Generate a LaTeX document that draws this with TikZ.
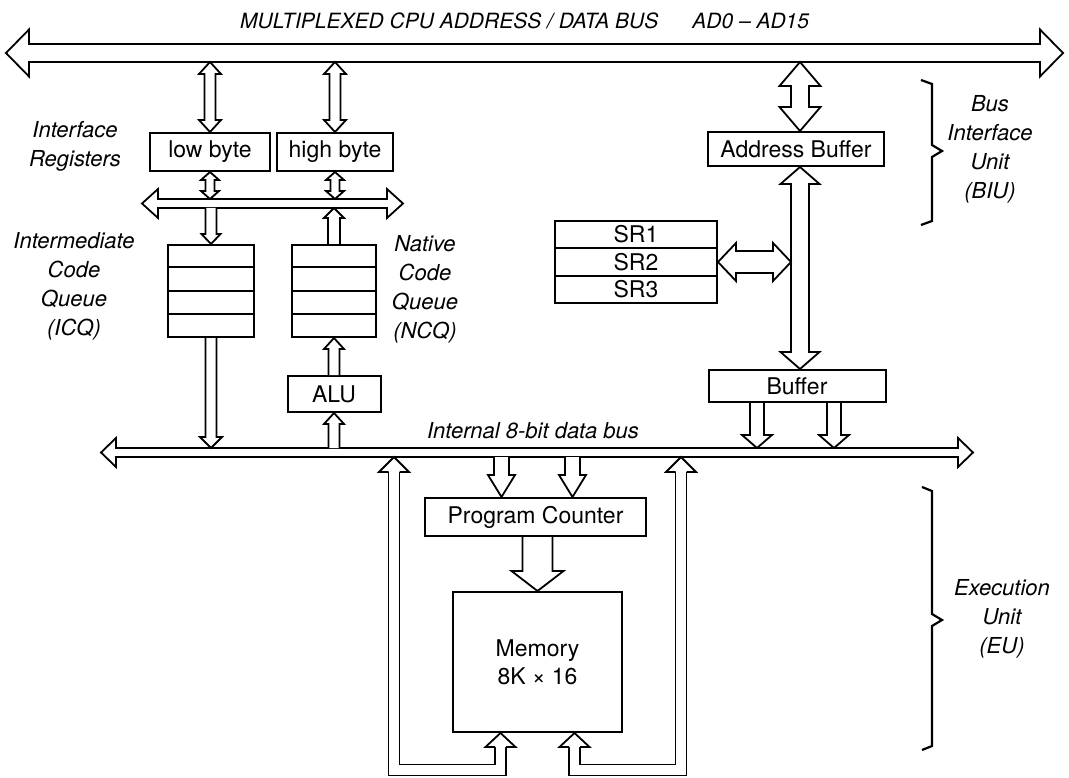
\documentclass[tikz,border=0pt]{standalone}
\usepackage{fontspec}
\setmainfont{TeX Gyre Heros}
\usetikzlibrary{calc}

% straight fat arrow, head at end only: {from}{to}{shaft half}{head half}{head length}
\newcommand{\fatone}[5]{%
  \path #1 coordinate (faS); \path #2 coordinate (faE);
  \pgfpointdiff{\pgfpointanchor{faS}{center}}{\pgfpointanchor{faE}{center}}%
  \pgfgetlastxy{\fadx}{\fady}%
  \pgfmathsetmacro\faang{atan2(\fady,\fadx)}%
  \pgfmathsetmacro\falen{veclen(\fadx,\fady)}%
  \begin{scope}[shift={(faS)}, rotate=\faang, x=1pt, y=1pt]
    \filldraw[fat] (0,#3) -- ({\falen-#5},#3) -- ({\falen-#5},#4) -- (\falen,0)
      -- ({\falen-#5},-#4) -- ({\falen-#5},-#3) -- (0,-#3);
  \end{scope}}
% straight fat arrow, heads at both ends
\newcommand{\fattwo}[5]{%
  \path #1 coordinate (faS); \path #2 coordinate (faE);
  \pgfpointdiff{\pgfpointanchor{faS}{center}}{\pgfpointanchor{faE}{center}}%
  \pgfgetlastxy{\fadx}{\fady}%
  \pgfmathsetmacro\faang{atan2(\fady,\fadx)}%
  \pgfmathsetmacro\falen{veclen(\fadx,\fady)}%
  \begin{scope}[shift={(faS)}, rotate=\faang, x=1pt, y=1pt]
    \filldraw[fat] (0,0) -- (#5,#4) -- (#5,#3) -- ({\falen-#5},#3) -- ({\falen-#5},#4)
      -- (\falen,0) -- ({\falen-#5},-#4) -- ({\falen-#5},-#3) -- (#5,-#3) -- (#5,-#4) -- cycle;
  \end{scope}}
% open head only: {tip}{angle}{shaft half}{head half}{length}
\newcommand{\fathead}[5]{%
  \begin{scope}[shift={#1}, rotate=#2, x=1pt, y=1pt]
    \filldraw[fat] (-#5,#3) -- (-#5,#4) -- (0,0) -- (-#5,-#4) -- (-#5,-#3);
  \end{scope}}

\begin{document}
\begin{tikzpicture}[x=1pt,y=-1pt,
  box/.style={draw, line width=2pt, rectangle, inner sep=0pt, font=\fontsize{23}{28}\selectfont},
  boxline/.style={line width=2pt},
  fat/.style={draw=black, fill=white, line width=1.8pt, line join=miter},
  loopsh/.style={draw=black, line width=1.8pt, double=white, double distance=9.2pt, line join=miter},
  lbl/.style={font=\fontsize{22}{29}\selectfont\itshape, align=center, inner sep=0pt},
  brc/.style={line width=2.2pt, line join=miter}]
\useasboundingbox (0,0) rectangle (1069,778);

% bus reference coordinates
\coordinate (tbL) at (6,53);   \coordinate (tbR) at (1063,53);  \coordinate (tbB) at (0,62);
\coordinate (sbL) at (142,203.5); \coordinate (sbR) at (403,203.5);
\coordinate (sbT) at (0,199);  \coordinate (sbB) at (0,208);
\coordinate (ibL) at (101,452.5); \coordinate (ibR) at (973,452.5);
\coordinate (ibT) at (0,448);  \coordinate (ibB) at (0,457);
\coordinate (abx) at (800,0);  \coordinate (abxL) at (791,0);

% title and labels
\node[lbl, anchor=west, font=\fontsize{21}{26}\selectfont\itshape] (title) at (240,21)
  {MULTIPLEXED CPU ADDRESS / DATA BUS\hspace{34pt}AD0 -- AD15};
\node[lbl] (lIR) at (75,146) {Interface\\Registers};
\node[lbl] (lICQ) at (74,286) {Intermediate\\Code\\Queue\\(ICQ)};
\node[lbl] (lNCQ) at (425,289) {Native\\Code\\Queue\\(NCQ)};
\node[lbl] (lBIU) at (990,149) {Bus\\Interface\\Unit\\(BIU)};
\node[lbl] (lEU) at (1002,619) {Execution\\Unit\\(EU)};
\node[lbl] (lIB) at (533,431) {Internal 8-bit data bus};

% boxes
\node[box, minimum width=120pt, minimum height=38pt] (low) at (210,152) {low byte};
\node[box, minimum width=116pt, minimum height=38pt] (high) at (335,152) {high byte};
\node[box, minimum width=86pt, minimum height=92pt] (icq) at (211,291) {};
\node[box, minimum width=84pt, minimum height=92pt] (ncq) at (334,291) {};
\foreach \q in {icq,ncq}
  \foreach \f in {0.25,0.5,0.75}
    \draw[boxline] ($(\q.north west)!\f!(\q.south west)$) -- ($(\q.north east)!\f!(\q.south east)$);
\node[box, minimum width=93pt, minimum height=36pt] (alu) at (334,394) {ALU};
\node[box, minimum width=176pt, minimum height=34pt] (ab) at (796,149) {Address Buffer};
\node[box, minimum width=162pt, minimum height=27.5pt] (sr1) at (636,234.5) {SR1};
\node[box, minimum width=162pt, minimum height=27.5pt] (sr2) at (636,262) {SR2};
\node[box, minimum width=162pt, minimum height=27.5pt] (sr3) at (636,289.5) {SR3};
\node[box, minimum width=177pt, minimum height=32pt] (buf) at (797,386) {Buffer};
\node[box, minimum width=221pt, minimum height=38pt] (pc) at (535.5,517) {Program Counter};
\node[box, minimum width=169pt, minimum height=140pt, align=center] (mem) at (537.5,662) {Memory\\8K × 16};

% buses
\fattwo{(tbL)}{(tbR)}{9}{23.5}{23}
\fattwo{(sbL)}{(sbR)}{4.5}{14.5}{16}
\fattwo{(ibL)}{(ibR)}{4.5}{14.5}{15}

% connectors
\fattwo{(low.north |- tbB)}{(low.north)}{5.5}{11}{12}
\fattwo{(high.north |- tbB)}{(high.north)}{5.5}{11}{12}
\fattwo{(abx |- tbB)}{(abx |- ab.north)}{9}{20.5}{24}
\fattwo{(low.south)}{(low.south |- sbT)}{4.5}{9}{8}
\fattwo{(high.south)}{(high.south |- sbT)}{4.5}{9}{8}
\fatone{(icq.north |- sbB)}{(icq.north)}{5.5}{9.5}{10}
\fatone{(ncq.north)}{(ncq.north |- sbB)}{6}{10}{10}
\fatone{(icq.south)}{(icq.south |- ibT)}{5.5}{11}{11}
\fatone{(alu.north)}{(ncq.south)}{5.5}{10}{11}
\fatone{(alu.south |- ibT)}{(alu.south)}{5.5}{10}{11}
\fattwo{(abx |- ab.south)}{(abx |- buf.north)}{9}{19.5}{17}
\fattwo{(sr2.east)}{(sr2.east -| abxL)}{11}{19}{18}

\coordinate (bufL) at ($(buf.south)+(-40,0)$);
\coordinate (bufR) at ($(buf.south)+(37,0)$);
\fatone{(bufL)}{(bufL |- ibT)}{7}{15}{13}
\fatone{(bufR)}{(bufR |- ibT)}{7}{15}{13}

\coordinate (pcL) at ($(pc.north)+(-34,0)$);
\coordinate (pcR) at ($(pc.north)+(37,0)$);
\fatone{(pcL |- ibB)}{(pcL)}{7.5}{13.5}{22}
\fatone{(pcR |- ibB)}{(pcR)}{7.5}{13.5}{22}
\fatone{(mem.north |- pc.south)}{(mem.north)}{15}{26}{20}

% feedback loops from memory to internal bus
\coordinate (mL) at ($(mem.south)+(-37,0)$);
\coordinate (mR) at ($(mem.south)+(37,0)$);
\coordinate (vL) at (394,770);
\coordinate (vR) at (681,770);
\coordinate (vLt) at (vL |- ibB);
\coordinate (vRt) at (vR |- ibB);
\draw[loopsh] ($(vLt)+(0,15)$) -- (vL) -- (mL |- vL) -- ($(mL)+(0,14)$);
\draw[loopsh] ($(vRt)+(0,15)$) -- (vR) -- (mR |- vR) -- ($(mR)+(0,14)$);
\fathead{(vLt)}{90}{5.5}{15}{15}
\fathead{(vRt)}{90}{5.5}{15}{15}
\fathead{(mL)}{90}{5.5}{15}{14}
\fathead{(mR)}{90}{5.5}{15}{14}

% braces
\draw[brc] (921,80) -- (932,84) -- (932,145) -- (942,151) -- (932,157) -- (932,221) -- (921,225);
\draw[brc] (922,487) -- (932,491) -- (932,614) -- (942,620) -- (932,626) -- (932,746) -- (922,750);
\end{tikzpicture}
\end{document}
